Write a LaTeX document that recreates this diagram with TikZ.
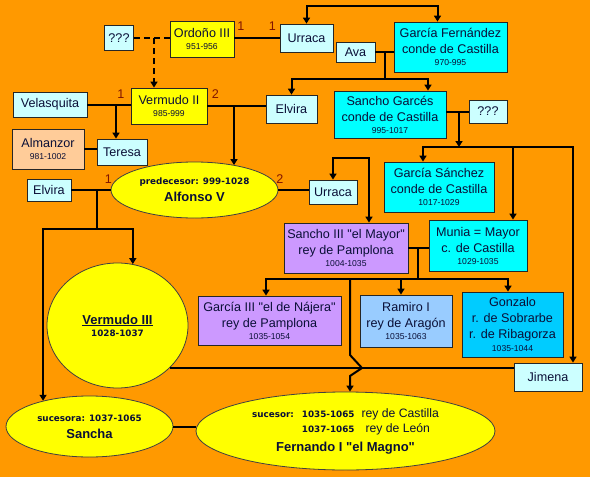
\documentclass[tikz,border=0pt]{standalone}
\usepackage{fontspec}
\setmainfont{Liberation Sans}
\newfontfamily\dvsans{DejaVu Sans}
\usepackage{tikz}
\usetikzlibrary{shapes.geometric, arrows.meta, calc}
\definecolor{bgorange}{RGB}{255,153,0}
\definecolor{kingyellow}{RGB}{255,255,0}
\definecolor{palecyan}{RGB}{204,255,255}
\definecolor{countcyan}{RGB}{0,255,255}
\definecolor{lilac}{RGB}{204,153,255}
\definecolor{aragonblue}{RGB}{153,204,255}
\definecolor{skyblue}{RGB}{0,204,255}
\definecolor{peach}{RGB}{255,204,153}
\definecolor{ink}{RGB}{10,15,55}
\definecolor{numred}{RGB}{128,20,0}
\newcommand{\yrs}[1]{{\fontsize{8.6}{10}\selectfont #1}}
\newcommand{\byrs}[1]{{\dvsans\bfseries\fontsize{8.8}{10}\selectfont #1}}
\newcommand{\qq}{\textquotedbl}
\tikzset{
    line/.style={line width=2pt, black},
    arrow/.style={line, -{Triangle[length=6pt, width=7pt]}},
    sibarrow/.style={line, {Triangle[length=6pt, width=7pt]}-{Triangle[length=6pt, width=7pt]}},
    dashedarrow/.style={arrow, dash pattern=on 6pt off 4pt},
}

\begin{document}
\begin{tikzpicture}[
    x=1pt, y=-1pt,
    box/.style={draw=black!85, line width=0.8pt, align=center, inner sep=1pt, text=ink, font=\fontsize{12.6}{16}\selectfont},
    pale/.style={box, fill=palecyan},
    king/.style={box, fill=kingyellow},
    count/.style={box, fill=countcyan},
    navarra/.style={box, fill=lilac},
    oval/.style={ellipse, draw=black!75, line width=0.8pt, fill=kingyellow, align=center, inner sep=0pt, text=ink, font=\bfseries\fontsize{13}{16}\selectfont},
    num/.style={text=numred, inner sep=0pt, font=\fontsize{12.6}{14}\selectfont}
]

\fill[bgorange] (0,0) rectangle (590,477);
\useasboundingbox (0,0) rectangle (590,477);

% people
\node[pale, minimum width=29pt, minimum height=25pt] (q1) at (119,38) {???};
\node[king, minimum width=64pt, minimum height=36pt] (ord) at (202,39) {Ordoño III\\[-4pt]\yrs{951-956}};
\node[pale, minimum width=53pt, minimum height=28pt] (urr1) at (306.5,38) {Urraca};
\node[count, minimum width=113pt, minimum height=50pt] (gfer) at (450.5,47) {García Fernández\\conde de Castilla\\[-4pt]\yrs{970-995}};
\node[pale, minimum width=39pt, minimum height=20pt] (ava) at (355.5,52) {Ava};
\node[pale, minimum width=74pt, minimum height=25pt] (vel) at (50,104.5) {Velasquita};
\node[king, minimum width=76pt, minimum height=36pt] (ver2) at (169,106) {Vermudo II\\[-4pt]\yrs{985-999}};
\node[pale, minimum width=51pt, minimum height=28pt] (elv1) at (291.5,109) {Elvira};
\node[count, minimum width=112pt, minimum height=47pt] (sgar) at (390,114.5) {Sancho Garcés\\conde de Castilla\\[-4pt]\yrs{995-1017}};
\node[pale, minimum width=38pt, minimum height=23pt] (q2) at (488,111.5) {???};
\node[box, fill=peach, minimum width=72pt, minimum height=40pt] (alm) at (48,149) {Almanzor\\[-4pt]\yrs{981-1002}};
\node[pale, minimum width=50pt, minimum height=26pt] (ter) at (122,152) {Teresa};
\node[pale, minimum width=44pt, minimum height=22pt] (elv2) at (49,190) {Elvira};
\node[oval, minimum width=167pt, minimum height=56pt] (alf) at (194.5,190) {\byrs{predecesor: 999-1028}\\[1.3pt]Alfonso V};
\node[pale, minimum width=48pt, minimum height=24pt] (urr2) at (333,192) {Urraca};
\node[count, minimum width=110pt, minimum height=50pt] (gsan) at (439,187) {García Sánchez\\conde de Castilla\\[-4pt]\yrs{1017-1029}};
\node[navarra, minimum width=124pt, minimum height=50pt] (san3) at (346,248) {Sancho III \qq el Mayor\qq\\rey de Pamplona\\[-4pt]\yrs{1004-1035}};
\node[count, minimum width=98pt, minimum height=51pt] (mun) at (478,245.5) {Munia = Mayor\\c. de Castilla\\[-4pt]\yrs{1029-1035}};
\node[oval, minimum width=141pt, minimum height=125pt] (ver3) at (117.5,325.5) {\underline{Vermudo III}\\[-3.7pt]\byrs{1028-1037}};
\node[navarra, minimum width=143pt, minimum height=49pt] (gar3) at (269.5,320.5) {García III \qq el de Nájera\qq\\rey de Pamplona\\[-4pt]\yrs{1035-1054}};
\node[box, fill=aragonblue, minimum width=92pt, minimum height=52pt] (ram) at (406,321) {Ramiro I\\rey de Aragón\\[-4pt]\yrs{1035-1063}};
\node[box, fill=skyblue, minimum width=101pt, minimum height=65pt] (gon) at (512.5,324.5) {Gonzalo\\r. de Sobrarbe\\r. de Ribagorza\\[-3pt]\yrs{1035-1044}};
\node[pale, minimum width=68pt, minimum height=28pt] (jim) at (548,377) {Jimena};
\node[oval, minimum width=167pt, minimum height=61pt] (sancha) at (89.5,426.5) {\byrs{sucesora: 1037-1065}\\[1.3pt]Sancha};
\node[oval, minimum width=299pt, minimum height=78pt] (fer) at (345.5,431) {%
    {\fontsize{12.2}{15}\selectfont\mdseries
    \begin{tabular}{@{}r@{\hspace{8pt}}l@{\hspace{7pt}}l@{}}
    \byrs{sucesor:} & \byrs{1035-1065} & rey de Castilla\\
    & \byrs{1037-1065} & \hspace{4pt}rey de León\\[4pt]
    \multicolumn{3}{c}{\bfseries\fontsize{13}{15}\selectfont Fernando I \qq el Magno\qq}
    \end{tabular}}};

% Ordono III and Urraca
\draw[line] (ord.east |- urr1.west) -- (urr1.west);
\node[num] (n1) at (241,26.5) {1};
\node[num] (n2) at (272.5,26.5) {1};

% unknown mother, dashed
\draw[line, dash pattern=on 6pt off 4pt] (q1.east) -- (q1.east -| ord.west);
\coordinate (dq) at (154,38);
\draw[dashedarrow] (dq) -- (dq |- ver2.north);

% Urraca and Garcia Fernandez are siblings
\draw[sibarrow] (urr1.north) |- ($(gfer.north)+(-13,-16)$) -- ($(gfer.north)+(-13,0)$);

% Ava + Garcia Fernandez
\draw[line] (ava.east) -- (ava.east -| gfer.west);
\coordinate (ag) at (385,52);
\coordinate (agbar) at (385,79);
\draw[line] (ag) -- (agbar);
\draw[arrow] (agbar) -| (elv1.north);
\draw[arrow] (agbar) -| ($(sgar.north)+(38,0)$);

% Velasquita + Vermudo II
\draw[line] (vel.east) -- (vel.east -| ver2.west);
\coordinate (vv) at (116,104.5);
\draw[arrow] (vv) -- (vv |- ter.north);
\node[num] (n3) at (121,94.5) {1};

% Almanzor + Teresa
\draw[line] (alm.east) -- (alm.east -| ter.west);

% Vermudo II + Elvira
\draw[line] (ver2.east) -- (ver2.east -| elv1.west);
\coordinate (ve) at (234,106);
\draw[arrow] (ve) -- (ve |- alf.32);
\node[num] (n4) at (215.5,94.5) {2};

% Elvira + Alfonso V
\draw[line] (elv2.east) -- (elv2.east -| alf.west);
\coordinate (ea) at (97,190);
\coordinate (eabar) at (97,229);
\draw[line] (ea) -- (eabar);
\draw[arrow] (eabar) -| (ver3.76);
\draw[arrow] (eabar) -| (sancha.151);
\node[num] (n5) at (108.5,179.5) {1};

% Alfonso V + Urraca
\draw[line] (alf.east) -- (alf.east -| urr2.west);
\node[num] (n6) at (280,179.5) {2};

% Urraca and Sancho III
\draw[sibarrow] (urr2.north) |- ($(san3.north)+(23,-65)$) -- ($(san3.north)+(23,0)$);

% Sancho Garces + ???
\draw[line] (sgar.east |- q2.west) -- (q2.west);
\coordinate (sq) at (459,111.5);
\coordinate (sqbar) at (459,147);
\draw[arrow] (sqbar) -| ($(gsan.north)+(-16,0)$);
\draw[arrow] (sqbar) -| ($(mun.north)+(35,0)$);
\draw[arrow] (sqbar) -| ($(jim.north)+(25,0)$);
\draw[arrow] (sq) -- (sqbar);

% Sancho III + Munia
\draw[line] (san3.east) -- (san3.east -| mun.west);
\coordinate (sm) at (418,248);
\coordinate (smbar) at (418,279);
\draw[line] (sm) -- (smbar);
\draw[arrow] (smbar) -| ($(gar3.north)+(-3.5,0)$);
\draw[arrow] (smbar) -| ($(ram.north)+(-5,0)$);
\draw[arrow] (smbar) -| ($(gon.north)+(-4.5,0)$);
\coordinate (hop) at (350,368);
\draw[arrow] (hop |- smbar) -- ($(hop)+(0,-13)$) -- ($(hop)+(12,0)$) -- ($(hop)+(0,8)$) -- (hop |- fer.north);

% Vermudo III + Jimena
\draw[line] (ver3.-39) -- (ver3.-39 -| jim.west);

% Sancha + Fernando I
\draw[line] (sancha.east) -- (sancha.east -| fer.west);

\end{tikzpicture}
\end{document}
